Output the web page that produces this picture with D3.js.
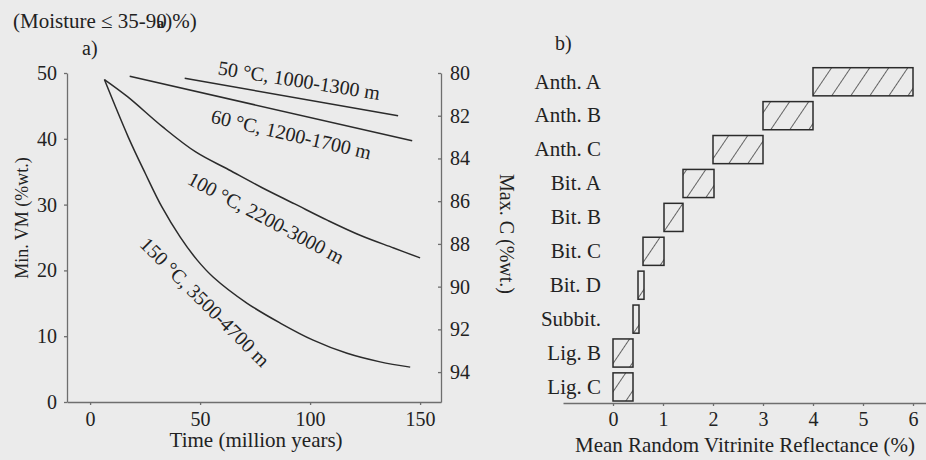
<!DOCTYPE html>
<html>
<head>
<meta charset="utf-8">
<script src="https://cdn.jsdelivr.net/npm/d3@7"></script>
<style>
  html, body { margin: 0; padding: 0; background: #ebebeb; }
  svg { display: block; font-family: "Liberation Serif", "DejaVu Serif", serif; }
  .axis path, .axis line { stroke: #6e6e6e; stroke-width: 1.3; }
  .axis text { fill: #222; font-size: 20px; font-family: "Liberation Serif", serif; }
</style>
</head>
<body>
<div class="chart"></div>
<script>
// ---- data, panel a) ----
const timeTicks = [0, 50, 100, 150]
const vmTicks = [0, 10, 20, 30, 40, 50]
const carbonTicks = [80, 82, 84, 86, 88, 90, 92, 94]

// [time (Ma), min VM (%wt.)]
const curve50 = [[43, 49.2], [140, 43.5]]
const curve60 = [[18, 49.5], [146.4, 39.7]]
const curve100 = [[6.5, 49], [17, 46.4], [33, 41.8], [48, 38], [63, 35.3], [78, 32.6],
                  [93, 30.1], [108, 27.6], [123, 25.3], [138, 23.4], [150, 21.9]]
const curve150 = [[6.5, 49], [17.3, 40.3], [25, 34.8], [32.7, 29.6], [40.9, 25.1], [48.6, 21.6],
                  [55.9, 19], [71.4, 15], [86.4, 12], [101.4, 9.4], [116.8, 7.4], [131.8, 6.1], [145.5, 5.3]]
const curveLabels = ["50 °C, 1000-1300 m", "60 °C, 1200-1700 m", "100 °C, 2200-3000 m", "150 °C, 3500-4700 m"]

// ---- data, panel b) ----
const ranks = ["Anth. A", "Anth. B", "Anth. C", "Bit. A", "Bit. B", "Bit. C", "Bit. D", "Subbit.", "Lig. B", "Lig. C"]
const roMin = [4.0, 3.0, 2.0, 1.4, 1.02, 0.6, 0.5, 0.4, 0, 0]
const roMax = [6.0, 4.0, 3.0, 2.02, 1.4, 1.02, 0.62, 0.52, 0.4, 0.4]
const roTicks = [0, 1, 2, 3, 4, 5, 6]

const width = 926, height = 460
const svg = d3.select(".chart").append("svg")
  .attr("width", width).attr("height", height)

// hatch pattern for the bars
svg.append("defs").append("pattern")
  .attr("id", "hatch")
  .attr("patternUnits", "userSpaceOnUse")
  .attr("width", 15.8).attr("height", 10)
  .attr("patternTransform", "rotate(34)")
  .append("line")
  .attr("x1", 0).attr("y1", 0).attr("x2", 0).attr("y2", 10)
  .attr("stroke", "#2a2a2a").attr("stroke-width", 1.4)

// ================= panel a =================
const x = d3.scaleLinear().domain([-10.5, 159.5]).range([67, 441])
const y = d3.scaleLinear().domain([0, 50]).range([402, 73])
const yC = d3.scaleLinear().domain([80, 95.4]).range([73, 402])

svg.append("g").attr("class", "axis")
  .attr("transform", "translate(67,0)")
  .call(d3.axisLeft(y).tickValues(vmTicks).tickSize(3).tickSizeOuter(0).tickPadding(7))

svg.append("g").attr("class", "axis")
  .attr("transform", "translate(0,402)")
  .call(d3.axisBottom(x).tickValues(timeTicks).tickSize(3).tickSizeOuter(0).tickPadding(7))

svg.append("g").attr("class", "axis")
  .attr("transform", "translate(441,0)")
  .call(d3.axisRight(yC).tickValues(carbonTicks).tickSize(-3).tickSizeOuter(0).tickPadding(9))

const line = d3.line()
  .x(d => x(d[0]))
  .y(d => y(d[1]))
  .curve(d3.curveCatmullRom)

svg.append("g").selectAll("path")
  .data([curve50, curve60, curve100, curve150])
  .enter().append("path")
  .attr("d", line)
  .attr("fill", "none")
  .attr("stroke", "#2b2b2b")
  .attr("stroke-width", 1.5)

// label anchors (data units) and angles
const labelPos = [[95, 48.9, 9], [91.4, 40.7, 13], [80, 28, 28], [52.3, 15.2, 45]]
svg.append("g").selectAll("text")
  .data(curveLabels)
  .enter().append("text")
  .attr("transform", (d, i) => `translate(${x(labelPos[i][0])},${y(labelPos[i][1])}) rotate(${labelPos[i][2]})`)
  .attr("text-anchor", "middle")
  .attr("dy", "0.35em")
  .attr("font-size", 20)
  .attr("fill", "#222")
  .text(d => d)

svg.append("text")
  .attr("transform", "translate(28,218) rotate(-90)")
  .attr("text-anchor", "middle")
  .attr("font-size", 18)
  .attr("fill", "#222")
  .text("Min. VM (%wt.)")

svg.append("text")
  .attr("transform", "translate(500,234) rotate(90)")
  .attr("text-anchor", "middle")
  .attr("font-size", 20)
  .attr("fill", "#222")
  .text("Max. C (%wt.)")

svg.append("text")
  .attr("x", (x(0) + x(150)) / 2 + 1).attr("y", 447)
  .attr("text-anchor", "middle")
  .attr("font-size", 21)
  .attr("fill", "#222")
  .text("Time (million years)")

svg.append("text")
  .attr("x", 82).attr("y", 55)
  .attr("font-size", 20).attr("fill", "#222")
  .text("a)")

// the scanned header has an overlapping glyph, kept inside one text element
const head = svg.append("text")
  .attr("x", 13).attr("y", 28)
  .attr("font-size", 21).attr("fill", "#222")
head.append("tspan").text("(Moisture ≤ 35-90")
head.append("tspan").attr("dx", -10).attr("font-size", 15).attr("font-weight", "bold").text("a")
head.append("tspan").attr("dx", 1).text(")%)")

// ================= panel b =================
const xr = d3.scaleLinear().domain([-1, 6.26]).range([563, 926])
const yr = d3.scaleBand().domain(ranks).range([67.7, 401]).paddingInner(0.17).paddingOuter(0)

svg.append("g").attr("class", "axis")
  .attr("transform", "translate(0,403)")
  .call(d3.axisBottom(xr).tickValues(roTicks).tickSize(3).tickSizeOuter(0).tickPadding(6))

const yrAxis = svg.append("g").attr("class", "axis")
  .attr("transform", "translate(603,0)")
  .call(d3.axisLeft(yr).tickSize(0).tickPadding(2))
yrAxis.select(".domain").remove()
yrAxis.selectAll("text").style("font-size", "21px")

svg.append("g").selectAll("rect")
  .data(ranks)
  .enter().append("rect")
  .attr("x", (d, i) => xr(roMin[i]))
  .attr("y", d => yr(d))
  .attr("width", (d, i) => xr(roMax[i]) - xr(roMin[i]))
  .attr("height", yr.bandwidth())
  .attr("fill", "url(#hatch)")
  .attr("stroke", "#2b2b2b")
  .attr("stroke-width", 1.5)

svg.append("text")
  .attr("x", 745).attr("y", 452)
  .attr("text-anchor", "middle")
  .attr("font-size", 21)
  .attr("fill", "#222")
  .text("Mean Random Vitrinite Reflectance (%)")

svg.append("text")
  .attr("x", 555).attr("y", 50)
  .attr("font-size", 20).attr("fill", "#222")
  .text("b)")
</script>
</body>
</html>
